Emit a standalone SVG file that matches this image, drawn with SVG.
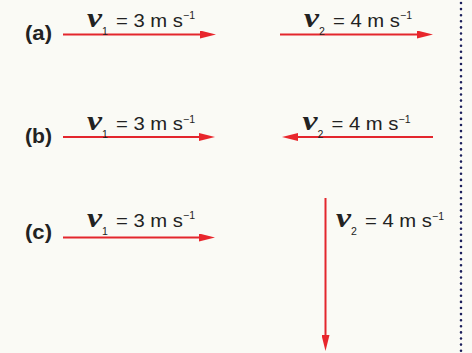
<svg xmlns="http://www.w3.org/2000/svg" width="472" height="353" viewBox="0 0 472 353">
  <defs>
    <style>
      .bg { fill: #fafaf5; }
      .arr { stroke: #e3262d; stroke-width: 2; fill: none; marker-end: url(#head); }
      .lbl { font-family: "Liberation Sans", Arial, sans-serif; font-weight: bold; font-size: 19.5px; fill: #222; }
      .vv { font-family: "Liberation Serif", "Times New Roman", serif; font-weight: bold; font-style: italic; font-size: 28px; fill: #222; }
      .main { font-family: "Liberation Sans", Arial, sans-serif; font-size: 18.5px; fill: #222; }
      .small { font-family: "Liberation Sans", Arial, sans-serif; font-size: 10.5px; fill: #222; }
      .dots { stroke: #1c1f5c; stroke-width: 2.6; stroke-linecap: round; stroke-dasharray: 0 6.1; fill: none; }
    </style>
    <marker id="head" viewBox="0 0 16 8" refX="6" refY="4" markerWidth="16" markerHeight="8" markerUnits="userSpaceOnUse" orient="auto">
      <path d="M0,0 L16,4 L0,8 z" fill="#e8262c"/>
    </marker>
  </defs>
  <rect class="bg" x="0" y="0" width="472" height="353"/>

  <line class="dots" x1="461" y1="3" x2="461" y2="352"/>

  <g id="connectors">
    <line class="arr" x1="63" y1="34.5" x2="206" y2="34.5"/>
    <line class="arr" x1="280" y1="34.5" x2="423" y2="34.5"/>
    <line class="arr" x1="63" y1="137" x2="205" y2="137"/>
    <line class="arr" x1="433" y1="137" x2="292" y2="137"/>
    <line class="arr" x1="63" y1="237.5" x2="205" y2="237.5"/>
    <line class="arr" x1="325.5" y1="198" x2="325.5" y2="341"/>
  </g>

  <g id="label-a"><text class="lbl" x="25" y="39.5" textLength="27" lengthAdjust="spacingAndGlyphs">(a)</text></g>
  <g id="label-b"><text class="lbl" x="25" y="143.3" textLength="27" lengthAdjust="spacingAndGlyphs">(b)</text></g>
  <g id="label-c"><text class="lbl" x="25" y="239.2" textLength="27" lengthAdjust="spacingAndGlyphs">(c)</text></g>

  <g id="a-v1" transform="translate(87,26.5)">
    <text class="vv" x="0" y="0" textLength="15" lengthAdjust="spacingAndGlyphs">v</text>
    <text class="small" x="15" y="8">1</text>
    <text class="main" x="29" y="0" textLength="67" lengthAdjust="spacingAndGlyphs">= 3 m s</text>
    <text class="small" x="96" y="-7.5" textLength="12" lengthAdjust="spacingAndGlyphs">−1</text>
  </g>
  <g id="a-v2" transform="translate(304,26.5)">
    <text class="vv" x="0" y="0" textLength="15" lengthAdjust="spacingAndGlyphs">v</text>
    <text class="small" x="15" y="8">2</text>
    <text class="main" x="29" y="0" textLength="67" lengthAdjust="spacingAndGlyphs">= 4 m s</text>
    <text class="small" x="96" y="-7.5" textLength="12" lengthAdjust="spacingAndGlyphs">−1</text>
  </g>
  <g id="b-v1" transform="translate(87,130)">
    <text class="vv" x="0" y="0" textLength="15" lengthAdjust="spacingAndGlyphs">v</text>
    <text class="small" x="15" y="8">1</text>
    <text class="main" x="29" y="0" textLength="67" lengthAdjust="spacingAndGlyphs">= 3 m s</text>
    <text class="small" x="96" y="-7.5" textLength="12" lengthAdjust="spacingAndGlyphs">−1</text>
  </g>
  <g id="b-v2" transform="translate(302.5,130)">
    <text class="vv" x="0" y="0" textLength="15" lengthAdjust="spacingAndGlyphs">v</text>
    <text class="small" x="15" y="8">2</text>
    <text class="main" x="29" y="0" textLength="67" lengthAdjust="spacingAndGlyphs">= 4 m s</text>
    <text class="small" x="96" y="-7.5" textLength="12" lengthAdjust="spacingAndGlyphs">−1</text>
  </g>
  <g id="c-v1" transform="translate(87,226.8)">
    <text class="vv" x="0" y="0" textLength="15" lengthAdjust="spacingAndGlyphs">v</text>
    <text class="small" x="15" y="8">1</text>
    <text class="main" x="29" y="0" textLength="67" lengthAdjust="spacingAndGlyphs">= 3 m s</text>
    <text class="small" x="96" y="-7.5" textLength="12" lengthAdjust="spacingAndGlyphs">−1</text>
  </g>
  <g id="c-v2" transform="translate(336,227)">
    <text class="vv" x="0" y="0" textLength="15" lengthAdjust="spacingAndGlyphs">v</text>
    <text class="small" x="15" y="8">2</text>
    <text class="main" x="29" y="0" textLength="67" lengthAdjust="spacingAndGlyphs">= 4 m s</text>
    <text class="small" x="96" y="-7.5" textLength="12" lengthAdjust="spacingAndGlyphs">−1</text>
  </g>
</svg>
